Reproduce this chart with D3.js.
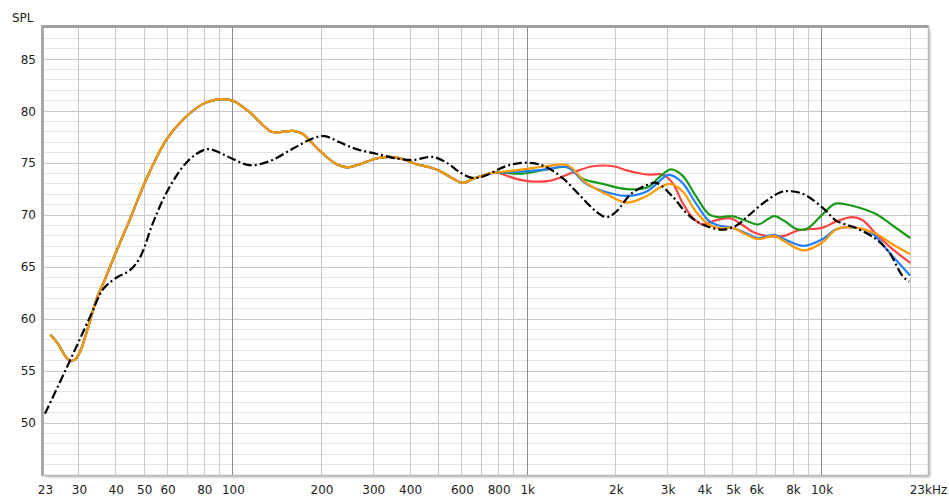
<!DOCTYPE html>
<html>
<head>
<meta charset="utf-8">
<script src="https://cdn.jsdelivr.net/npm/d3@7/dist/d3.min.js"></script>
<style>
  html, body { margin: 0; padding: 0; background: #ffffff; }
  text { font-family: "DejaVu Sans", Verdana, sans-serif; font-size: 12px; fill: #222; }
</style>
</head>
<body>
<svg id="chart" width="949" height="500"></svg>
<script>
// ---- data ----
const commonFreq = [24, 25.5, 27, 28.3, 29.3, 30.3, 32.3, 34.4, 36.8, 39.7, 44.7, 50.9, 59.6, 67.8, 79.3, 91.5, 100, 114, 133.5, 140.7, 160, 173, 182.6, 202.4, 225, 246, 270, 307, 341, 378, 420, 466, 505, 560, 606, 655, 745, 790];
const commonSPL  = [58.5, 57.6, 56.4, 55.95, 56.2, 56.9, 59.3, 61.9, 63.85, 66.15, 69.6, 73.5, 77.3, 79.2, 80.7, 81.15, 81.0, 79.9, 78.1, 77.95, 78.1, 77.8, 77.15, 75.9, 74.9, 74.6, 74.9, 75.45, 75.6, 75.4, 74.9, 74.6, 74.25, 73.5, 73.1, 73.5, 74.0, 74.1];

const redFreq = [870, 989, 1188, 1430, 1671, 1960, 2179, 2420, 2606, 2890, 3115, 3370, 3637, 3935, 4358, 4890, 5350, 5930, 6740, 7460, 8270, 10100, 11240, 12720, 13800, 15300, 16990, 20000];
const redSPL  = [73.7, 73.3, 73.3, 74.1, 74.7, 74.7, 74.3, 74.0, 73.9, 73.9, 73.1, 71.2, 69.8, 69.1, 69.5, 69.7, 69.1, 68.3, 67.95, 68.0, 68.5, 68.8, 69.4, 69.8, 69.5, 68.2, 67.0, 65.4];

const greenFreq = [968, 1165, 1370, 1545, 1810, 2179, 2555, 2800, 3078, 3370, 3730, 4140, 4470, 4950, 5490, 6080, 6910, 7460, 8270, 8940, 10100, 11150, 12720, 15300, 17430, 20000];
const greenSPL  = [74.0, 74.4, 74.6, 73.5, 73.0, 72.5, 72.65, 73.6, 74.4, 73.8, 71.9, 70.1, 69.8, 69.9, 69.5, 69.1, 69.9, 69.45, 68.65, 68.7, 70.1, 71.1, 70.9, 70.1, 69.0, 67.8];

const blueFreq = [968, 1165, 1370, 1586, 1863, 2179, 2555, 2966, 3078, 3370, 3730, 4140, 4470, 4950, 5490, 6080, 6910, 7460, 8710, 10100, 11240, 12990, 14930, 16990, 20000];
const blueSPL  = [74.2, 74.4, 74.6, 73.0, 72.2, 71.85, 72.3, 73.8, 73.85, 73.1, 71.2, 69.45, 69.0, 68.8, 68.3, 67.8, 68.1, 67.7, 67.05, 67.7, 68.65, 68.8, 68.2, 66.4, 64.2];

const orangeFreq = [968, 1165, 1370, 1586, 1863, 2179, 2555, 2800, 3054, 3370, 3730, 4140, 4580, 4950, 5490, 6080, 6910, 7460, 8710, 10100, 11240, 12990, 15300, 17430, 20000];
const orangeSPL  = [74.4, 74.7, 74.8, 73.1, 72.0, 71.2, 71.85, 72.6, 73.0, 72.3, 70.4, 69.1, 68.7, 68.8, 68.2, 67.7, 68.0, 67.5, 66.6, 67.4, 68.65, 68.8, 68.2, 67.2, 66.25];

const blackFreq = [23, 27.96, 32.7, 36.3, 40.3, 44.7, 48.3, 53.6, 59.6, 67.8, 75.3, 82.4, 90.3, 100, 114, 133.5, 160, 187.5, 205, 231, 263, 307, 360, 409, 478, 535, 592, 646, 705, 845, 944, 1048, 1165, 1328, 1515, 1723, 1863, 2018, 2244, 2555, 2750, 3115, 3450, 3815, 4580, 5140, 5620, 6370, 7260, 7820, 8710, 10100, 11240, 12990, 15300, 16990, 18780, 19850];
const blackSPL  = [50.9, 56.0, 60.2, 62.9, 64.0, 64.7, 65.9, 69.3, 72.2, 74.7, 75.9, 76.35, 76.0, 75.4, 74.8, 75.2, 76.4, 77.4, 77.6, 77.0, 76.35, 75.9, 75.45, 75.3, 75.6, 75.0, 74.1, 73.6, 73.7, 74.7, 75.0, 75.0, 74.6, 73.5, 71.85, 70.3, 69.8, 70.4, 72.0, 72.9, 73.1, 71.8, 70.3, 69.3, 68.6, 69.0, 69.9, 71.2, 72.2, 72.3, 72.0, 70.7, 69.45, 68.8, 67.7, 66.4, 64.2, 63.6];

const yTicks = [50, 55, 60, 65, 70, 75, 80, 85];
const xTickFreq  = [23, 30, 40, 50, 60, 80, 100, 200, 300, 400, 600, 800, 1000, 2000, 3000, 4000, 5000, 6000, 8000, 10000, 23000];
const xTickLabel = ["23", "30", "40", "50", "60", "80", "100", "200", "300", "400", "600", "800", "1k", "2k", "3k", "4k", "5k", "6k", "8k", "10k", "23kHz"];
const xGridFreq = [30, 40, 50, 60, 70, 80, 90, 100, 200, 300, 400, 500, 600, 700, 800, 900, 1000, 2000, 3000, 4000, 5000, 6000, 7000, 8000, 9000, 10000, 20000];
const xMajorFreq = [100, 1000, 10000];

// ---- build series ----
function zip(f, v) { return f.map((d, i) => [d, v[i]]); }
const common = zip(commonFreq, commonSPL);
const series = [
  { color: "#ff4444", pts: common.concat(zip(redFreq, redSPL)) },
  { color: "#1a9a1a", pts: common.concat(zip(greenFreq, greenSPL)) },
  { color: "#2080ff", pts: common.concat(zip(blueFreq, blueSPL)) },
  { color: "#ff9900", pts: common.concat(zip(orangeFreq, orangeSPL)) }
];
const black = zip(blackFreq, blackSPL);

// ---- layout ----
const L = 44, R = 928, T = 28, B = 475;
const svg = d3.select("#chart");
const x = d3.scaleLog().domain([23, 23000]).range([L + 1, R]);
const y = d3.scaleLinear().domain([45, 88]).range([B, T]);

// shadow filter
const defs = svg.append("defs");
const f = defs.append("filter").attr("id", "sh").attr("x", "-5%").attr("y", "-5%").attr("width", "110%").attr("height", "110%");
f.append("feGaussianBlur").attr("in", "SourceAlpha").attr("stdDeviation", 1.5).attr("result", "b");
f.append("feOffset").attr("in", "b").attr("dx", 2).attr("dy", 2).attr("result", "o");
f.append("feComponentTransfer").attr("in", "o").attr("result", "o2")
  .append("feFuncA").attr("type", "linear").attr("slope", 0.35);
const m = f.append("feMerge");
m.append("feMergeNode").attr("in", "o2");
m.append("feMergeNode").attr("in", "SourceGraphic");

svg.append("rect").attr("x", L).attr("y", T).attr("width", R - L).attr("height", B - T)
  .attr("fill", "#fff").attr("filter", "url(#sh)");

const clip = defs.append("clipPath").attr("id", "clip");
clip.append("rect").attr("x", L).attr("y", T).attr("width", R - L).attr("height", B - T);

const grid = svg.append("g");
d3.range(46, 88).forEach(v => {
  grid.append("line").attr("x1", L).attr("x2", R).attr("y1", y(v)).attr("y2", y(v))
    .attr("stroke", v % 5 === 0 ? "#c8c8c8" : "#e4e4e4").attr("stroke-width", 1).attr("shape-rendering", "crispEdges");
});
xGridFreq.forEach(fq => {
  const major = xMajorFreq.includes(fq);
  grid.append("line").attr("x1", x(fq)).attr("x2", x(fq)).attr("y1", T).attr("y2", B)
    .attr("stroke", major ? "#8c8c8c" : "#cacaca").attr("stroke-width", 1).attr("shape-rendering", "crispEdges");
});

// frame
svg.append("line").attr("x1", L - 1.5).attr("x2", R).attr("y1", T - 1.5).attr("y2", T - 1.5).attr("stroke", "#a0a0a0").attr("stroke-width", 3);
svg.append("line").attr("x1", L - 1.5).attr("x2", L - 1.5).attr("y1", T - 3).attr("y2", B + 1).attr("stroke", "#a8a8a8").attr("stroke-width", 3);
svg.append("line").attr("x1", L - 3).attr("x2", R + 1).attr("y1", B + 0.5).attr("y2", B + 0.5).attr("stroke", "#b8b8b8").attr("stroke-width", 1.5);
svg.append("line").attr("x1", R + 0.5).attr("x2", R + 0.5).attr("y1", T - 3).attr("y2", B + 1).attr("stroke", "#b8b8b8").attr("stroke-width", 1.5);

// curves
const line = d3.line().x(d => x(d[0])).y(d => y(d[1])).curve(d3.curveCatmullRom.alpha(0.5));
const plot = svg.append("g").attr("clip-path", "url(#clip)");
series.forEach(s => {
  plot.append("path").attr("d", line(s.pts)).attr("fill", "none")
    .attr("stroke", s.color).attr("stroke-width", 2.2).attr("stroke-linejoin", "round");
});
plot.append("path").attr("d", line(black)).attr("fill", "none")
  .attr("stroke", "#000").attr("stroke-width", 2.2)
  .attr("stroke-dasharray", "9,3,2,3");

// axes (labels via d3 axis)
const yAxis = d3.axisLeft(y).tickValues(yTicks).tickSize(0).tickPadding(6).tickFormat(d3.format("d"));
const ya = svg.append("g").attr("transform", `translate(${L - 2},0)`).call(yAxis);
ya.select(".domain").remove();
ya.selectAll("text").style("font-family", "DejaVu Sans, sans-serif").style("font-size", "12px").attr("fill", "#222");

const xAxis = d3.axisBottom(x).tickValues(xTickFreq).tickSize(0).tickPadding(10)
  .tickFormat((d, i) => xTickLabel[i]);
const xa = svg.append("g").attr("transform", `translate(0,${B})`).call(xAxis);
xa.select(".domain").remove();
xa.selectAll("text").style("font-family", "DejaVu Sans, sans-serif").style("font-size", "12px").attr("fill", "#222");

svg.append("text").attr("x", 12).attr("y", 22).text("SPL");
</script>
</body>
</html>
